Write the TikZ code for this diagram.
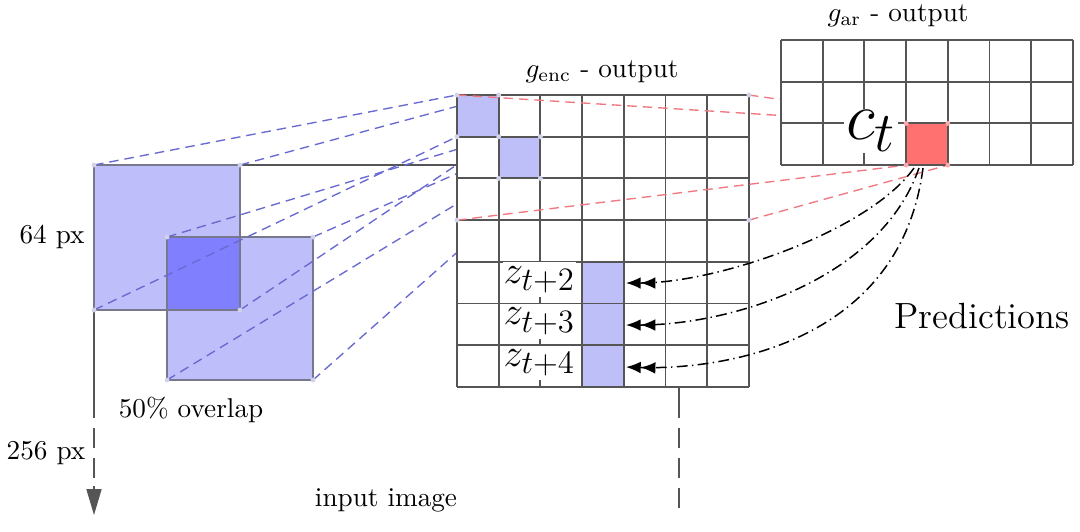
\documentclass[tikz,border=0pt]{standalone}
\usetikzlibrary{arrows.meta}
\definecolor{patch}{RGB}{190,190,250}
\definecolor{overlap}{RGB}{128,128,255}
\definecolor{cellblue}{RGB}{190,190,248}
\definecolor{cellred}{RGB}{255,112,112}
\definecolor{gridgray}{RGB}{85,85,85}
\definecolor{patchborder}{RGB}{120,120,140}
\definecolor{bluedash}{RGB}{105,105,210}
\definecolor{reddash}{RGB}{240,120,130}
\definecolor{dotc}{RGB}{210,210,235}
\definecolor{dotr}{RGB}{250,170,175}
\newcommand{\zsub}[1]{\mbox{\large$#1$}}
\newcommand{\csub}[1]{\mbox{\huge$#1$}}
\begin{document}
\begin{tikzpicture}[x=0.3676pt,y=-0.3676pt,
  gridline/.style={draw=gridgray,line width=0.7pt},
  bluelink/.style={draw=bluedash,line width=0.5pt,dash pattern=on 3.5pt off 2.2pt},
  redlink/.style={draw=reddash,line width=0.5pt,dash pattern=on 3.5pt off 2.2pt},
  predlink/.style={draw=black,line width=0.55pt,dash pattern=on 4pt off 1.6pt on 0.5pt off 1.6pt,
     -{Latex[length=5.4pt,width=4.3pt]Latex[length=5.4pt,width=4.3pt]}},
  imgline/.style={draw=gridgray,line width=0.6pt},
  imgdash/.style={imgline,dash pattern=on 7.35pt off 3.68pt},
  patchbox/.style={draw=patchborder,line width=0.6pt},
  cornerdot/.style={circle,fill=dotc,inner sep=0pt,minimum size=1.8pt},
  reddot/.style={circle,fill=dotr,inner sep=0pt,minimum size=1.8pt},
  lbl/.style={inner sep=1pt},
  zlbl/.style={fill=white,inner xsep=0.3pt,inner ysep=1.4pt,anchor=base,font=\Large},
]
\useasboundingbox (0,0) rectangle (1080,531);

% ---- coordinates ----
\coordinate (P1tl) at (94,165);  \coordinate (P1tr) at (240,165);
\coordinate (P1bl) at (94,310);  \coordinate (P1br) at (240,310);
\coordinate (P2tl) at (167,237); \coordinate (P2tr) at (313,237);
\coordinate (P2bl) at (167,380); \coordinate (P2br) at (313,380);
\coordinate (E00) at (457,95);     \coordinate (E10) at (498.7,95);
\coordinate (E01) at (457,136.7);  \coordinate (E11) at (498.7,136.7);
\coordinate (E21) at (540.4,136.7);\coordinate (E12) at (498.7,178.4);
\coordinate (E22) at (540.4,178.4);
\coordinate (E70) at (748.9,95);   \coordinate (E03) at (457,220.1);
\coordinate (E73) at (748.9,220.1);
\coordinate (R0) at (906.1,123.4); \coordinate (R1) at (947.8,123.4);
\coordinate (R2) at (906.1,165.1); \coordinate (R3) at (947.8,165.1);
\coordinate (ImgTopEnd) at (457,165);
\coordinate (LeftA) at (94,418);  \coordinate (LeftB) at (94,428);
\coordinate (LeftC) at (94,480);  \coordinate (LeftD) at (94,486);
\coordinate (LeftTip) at (94,515);
\coordinate (RightTop) at (679,386.9); \coordinate (RightA) at (679,418);
\coordinate (RightB) at (679,428); \coordinate (RightC) at (679,508);

% ---- input image outline ----
\draw[imgline] (P1tl) -- (ImgTopEnd);
\draw[imgline] (P1tl) -- (LeftA);
\draw[imgdash] (LeftB) -- (LeftC);
\draw[imgline,-{Triangle[length=9.5pt,width=5.5pt]}] (LeftD) -- (LeftTip);
\draw[imgline] (RightTop) -- (RightA);
\draw[imgdash] (RightB) -- (RightC);

% ---- patches ----
\fill[patch] (P1tl) rectangle (P1br);
\fill[patch] (P2tl) rectangle (P2br);
\fill[overlap] (P2tl) rectangle (P1br);
\draw[patchbox] (P1tl) rectangle (P1br);
\draw[patchbox] (P2tl) rectangle (P2br);

% ---- blue links ----
\draw[bluelink] (P1tl) -- (E00);
\draw[bluelink] (P1tr) -- (E10);
\draw[bluelink] (P1bl) -- (E01);
\draw[bluelink] (P1br) -- (E11);
\draw[bluelink] (P2tl) -- (E11);
\draw[bluelink] (P2tr) -- (E21);
\draw[bluelink] (P2bl) -- (E12);
\draw[bluelink] (P2br) -- (E22);

% ---- encoder grid ----
\fill[white] (457,95) rectangle (748.9,386.9);
\fill[cellblue] (457,95) rectangle (498.7,136.7);
\fill[cellblue] (498.7,136.7) rectangle (540.4,178.4);
\fill[cellblue] (582.1,261.8) rectangle (623.8,386.9);
\foreach \i in {0,...,7} {
  \draw[gridline] ({457+41.7*\i},95) -- ({457+41.7*\i},386.9);
  \draw[gridline] (457,{95+41.7*\i}) -- (748.9,{95+41.7*\i});
}

% ---- red links ----
\draw[redlink] (E00) -- (R0);
\draw[redlink] (E70) -- (R1);
\draw[redlink] (E03) -- (R2);
\draw[redlink] (E73) -- (R3);

% ---- AR grid ----
\fill[white] (781,40) rectangle (1072.9,165.1);
\fill[cellred] (R0) rectangle (R3);
\foreach \i in {0,...,7} {
  \draw[gridline] ({781+41.7*\i},40) -- ({781+41.7*\i},165.1);
}
\foreach \j in {0,...,3} {
  \draw[gridline] (781,{40+41.7*\j}) -- (1072.9,{40+41.7*\j});
}

% ---- labels in grids ----
\node[zlbl] (z2) at (539.5,283) {$z_{\zsub{t{+}2}}$};
\node[zlbl] (z3) at (539.5,324.7) {$z_{\zsub{t{+}3}}$};
\node[zlbl] (z4) at (539.5,366.4) {$z_{\zsub{t{+}4}}$};
\node[fill=white,inner sep=0.6pt,font=\Huge] (ct) at (871,131) {$c_{\csub{t}}$};

% ---- predictions ----
\coordinate (S2) at (914,168); \coordinate (S3) at (919,168); \coordinate (S4) at (923,168);
\coordinate (T2) at (626,283); \coordinate (T3) at (626,325); \coordinate (T4) at (626,367);
\draw[predlink] (S2) .. controls (870,230) and (720,283) .. (T2);
\draw[predlink] (S3) .. controls (880,280) and (730,325) .. (T3);
\draw[predlink] (S4) .. controls (900,345) and (720,370) .. (T4);

% ---- corner dots ----
\foreach \c in {P1tl,P1tr,P1bl,P1br,P2tl,P2tr,P2bl,P2br,E00,E10,E01,E11,E21,E12,E22,E70,E03,E73}
  \node[cornerdot] at (\c) {};
\foreach \c in {R0,R1,R2,R3}
  \node[reddot] at (\c) {};

% ---- text labels ----
\node[lbl] (genc) at (602,72) {$g_{\mathrm{enc}}$ - output};
\node[lbl] (gar) at (898,16) {$g_{\mathrm{ar}}$ - output};
\node[lbl,font=\fontsize{13.4}{16}\selectfont] (pred) at (982,316) {Predictions};
\node[lbl] (px64) at (52,237) {64 px};
\node[lbl] (px256) at (46,453) {256 px};
\node[lbl] (ovl) at (191,410) {50\% overlap};
\node[lbl] (inimg) at (386,500) {input image};
\end{tikzpicture}
\end{document}
